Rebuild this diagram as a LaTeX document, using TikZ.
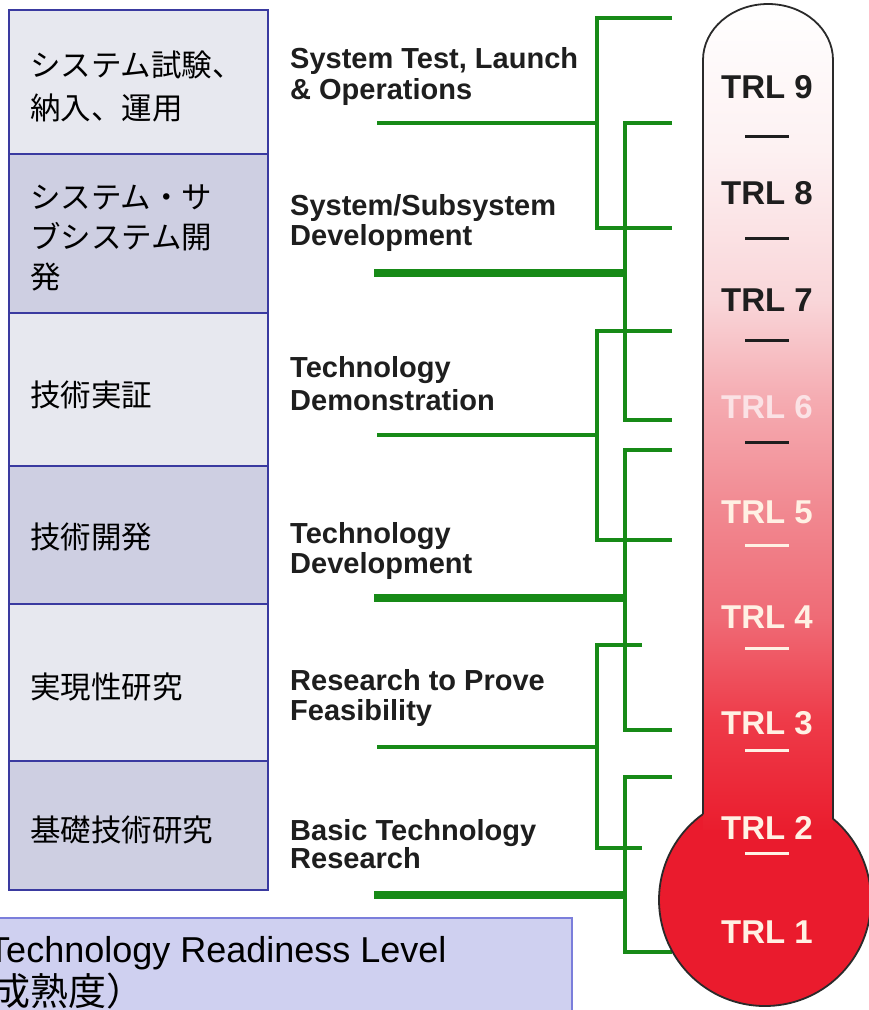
\documentclass[tikz,border=0pt]{standalone}
\usepackage{fontspec}
\setmainfont{Liberation Sans}
\newfontfamily\jp{Noto Sans CJK JP}
\definecolor{rowA}{HTML}{E7E8EF}
\definecolor{rowB}{HTML}{CECFE2}
\definecolor{rowline}{HTML}{3A3AA0}
\definecolor{capfill}{HTML}{CFD0F0}
\definecolor{capline}{HTML}{7B7EDB}
\definecolor{grn}{HTML}{178A17}
\definecolor{txt}{HTML}{1E1E1E}
\definecolor{cream}{HTML}{FFF1E4}
\definecolor{faint}{HTML}{FBE2E5}
\definecolor{rim}{HTML}{2A2A2A}
\definecolor{bulbred}{HTML}{EA1B2D}
\definecolor{t0}{HTML}{FFFFFF}
\definecolor{t1}{HTML}{FDF1F2}
\definecolor{t2}{HTML}{F9D6D9}
\definecolor{t3}{HTML}{F5ABB1}
\definecolor{t4}{HTML}{F18890}
\definecolor{t5}{HTML}{EF6B76}
\definecolor{t6}{HTML}{EE3A48}
\definecolor{t7}{HTML}{EA1D2E}
\pgfdeclareverticalshading{tubeshade}{100bp}{color(0bp)=(t7); color(25bp)=(t7); color(31.5bp)=(t6); color(37.9bp)=(t5); color(44.25bp)=(t4); color(51bp)=(t3); color(57.1bp)=(t2); color(66.2bp)=(t1); color(75bp)=(t0); color(100bp)=(t0)}
\begin{document}
\begin{tikzpicture}[x=1pt,y=1pt,
  jpl/.style={anchor=base west, inner sep=0pt, font=\jp\fontsize{30.5}{30.5}\selectfont, text=black},
  enl/.style={anchor=base west, inner sep=0pt, font=\bfseries\fontsize{29}{29}\selectfont, text=txt},
  trl/.style={inner sep=0pt, font=\bfseries\fontsize{33}{33}\selectfont},
  gthin/.style={draw=grn, line width=4.5pt},
  gthick/.style={draw=grn, line width=7.5pt},
  gbr/.style={draw=grn, line width=4pt},
  rowbox/.style={draw=rowline, line width=2.5pt},
  tick/.style={line width=3pt}]
\useasboundingbox (0,0) rectangle (869,-1010);
\clip (0,0) rectangle (869,-1010);
\fill[white] (0,0) rectangle (869,-1010);

% left table
\filldraw[rowbox, fill=rowA] (9,-10) rectangle (268,-154);
\filldraw[rowbox, fill=rowB] (9,-154) rectangle (268,-313);
\filldraw[rowbox, fill=rowA] (9,-313) rectangle (268,-466);
\filldraw[rowbox, fill=rowB] (9,-466) rectangle (268,-604);
\filldraw[rowbox, fill=rowA] (9,-604) rectangle (268,-761);
\filldraw[rowbox, fill=rowB] (9,-761) rectangle (268,-890);

\node[jpl] (j1a) at (30,-76) {システム試験、};
\node[jpl] (j1b) at (30,-119) {納入、運用};
\node[jpl] (j2a) at (30,-208) {システム・サ};
\node[jpl] (j2b) at (30,-248) {ブシステム開};
\node[jpl] (j2c) at (30,-288) {発};
\node[jpl] (j3) at (30,-406) {技術実証};
\node[jpl] (j4) at (30,-548) {技術開発};
\node[jpl] (j5) at (30,-698) {実現性研究};
\node[jpl] (j6) at (30,-841) {基礎技術研究};

% caption box
\fill[capfill] (-10,-918) rectangle (572,-1030);
\draw[capline, line width=1.5pt] (-10,-918) -- (572,-918) -- (572,-1030);
\node[anchor=base west, inner sep=0pt, font=\fontsize{36}{36}\selectfont] (cap1) at (-12,-962) {Technology Readiness Level};
\node[anchor=base west, inner sep=0pt, font=\jp\fontsize{38}{38}\selectfont] (cap2) at (-8,-1005) {成熟度）};

% english labels
\node[enl] (e1a) at (290,-68) {System Test, Launch};
\node[enl] (e1b) at (290,-99) {\& Operations};
\node[enl] (e2a) at (290,-215) {System/Subsystem};
\node[enl] (e2b) at (290,-245) {Development};
\node[enl] (e3a) at (290,-377) {Technology};
\node[enl] (e3b) at (290,-410) {Demonstration};
\node[enl] (e4a) at (290,-543) {Technology};
\node[enl] (e4b) at (290,-573) {Development};
\node[enl] (e5a) at (290,-690) {Research to Prove};
\node[enl] (e5b) at (290,-720) {Feasibility};
\node[enl] (e6a) at (290,-840) {Basic Technology};
\node[enl] (e6b) at (290,-868) {Research};

% green brackets
\draw[gbr] (672,-18) -- (597,-18) -- (597,-228) -- (672,-228);
\draw[gthin] (377,-123) -- (597,-123);
\draw[gbr] (672,-123) -- (625,-123) -- (625,-420) -- (672,-420);
\draw[gthick] (374,-273) -- (625,-273);
\draw[gbr] (672,-331) -- (597,-331) -- (597,-540) -- (672,-540);
\draw[gthin] (377,-435) -- (597,-435);
\draw[gbr] (672,-450) -- (625,-450) -- (625,-730) -- (672,-730);
\draw[gthick] (374,-598) -- (625,-598);
\draw[gbr] (642,-645) -- (597,-645) -- (597,-848) -- (642,-848);
\draw[gthin] (377,-747) -- (597,-747);
\draw[gbr] (672,-777) -- (625,-777) -- (625,-952) -- (672,-952);
\draw[gthick] (374,-895) -- (625,-895);

% thermometer
\fill[bulbred] (765,-900) circle[radius=106];
\shade[shading=tubeshade] (703,-830) -- (703,-60) arc[start angle=180, end angle=0, x radius=65, y radius=56] -- (833,-830) -- cycle;
\draw[rim, line width=1.8pt] (703,-814.4) -- (703,-60) arc[start angle=180, end angle=0, x radius=65, y radius=56] -- (833,-818.7) arc[start angle=50.1, end angle=-233.9, radius=106];

\node[trl, text=txt] (r9) at (767,-87) {TRL 9};
\node[trl, text=txt] (r8) at (767,-193) {TRL 8};
\node[trl, text=txt] (r7) at (767,-300) {TRL 7};
\node[trl, text=faint] (r6) at (767,-407) {TRL 6};
\node[trl, text=cream] (r5) at (767,-512) {TRL 5};
\node[trl, text=cream] (r4) at (767,-617) {TRL 4};
\node[trl, text=cream] (r3) at (767,-723) {TRL 3};
\node[trl, text=cream] (r2) at (767,-828) {TRL 2};
\node[trl, text=cream] (r1) at (767,-932) {TRL 1};

\draw[tick, txt] (745,-136) -- (789,-136);
\draw[tick, txt] (745,-238) -- (789,-238);
\draw[tick, txt] (745,-340) -- (789,-340);
\draw[tick, txt] (745,-442) -- (789,-442);
\draw[tick, cream] (745,-545) -- (789,-545);
\draw[tick, cream] (745,-648) -- (789,-648);
\draw[tick, cream] (745,-750) -- (789,-750);
\draw[tick, cream] (745,-853) -- (789,-853);
\end{tikzpicture}
\end{document}
